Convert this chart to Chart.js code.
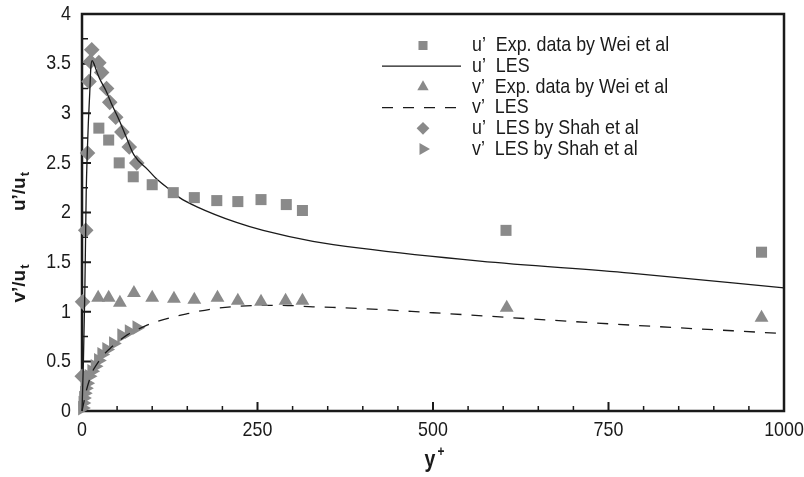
<!DOCTYPE html>
<html>
<head>
<meta charset="utf-8">
<script src="https://cdn.jsdelivr.net/npm/chart.js@4.4.0/dist/chart.umd.min.js"></script>
<style>
  html, body { margin: 0; padding: 0; background: #fff; }
  #wrap { width: 804px; height: 477px; position: relative; }
</style>
</head>
<body>
<div id="wrap"><canvas id="chart"></canvas></div>
<script>
// valeurs
const uExpX = [24, 38, 53, 73, 100, 130, 160, 192, 222, 255, 291, 314, 604, 968];
const uExpY = [2.85, 2.73, 2.50, 2.36, 2.28, 2.20, 2.15, 2.12, 2.11, 2.13, 2.08, 2.02, 1.82, 1.60];

const vExpX = [23, 38, 54, 74, 100, 131, 160, 193, 222, 255, 290, 314, 605, 968];
const vExpY = [1.14, 1.14, 1.09, 1.19, 1.14, 1.13, 1.12, 1.14, 1.11, 1.10, 1.11, 1.11, 1.04, 0.94];

const uLesX = [0, 2, 4, 5, 6, 7.5, 9, 11, 12.5, 14.5, 17, 20, 25, 34, 43, 53, 63, 74, 94, 106, 125, 139, 163, 220, 258, 329, 396, 567, 781, 1000];
const uLesY = [0, 0.5, 1.2, 1.7, 2.2, 2.6, 2.9, 3.2, 3.45, 3.53, 3.5, 3.44, 3.35, 3.23, 3.08, 2.93, 2.76, 2.58, 2.43, 2.34, 2.23, 2.15, 2.06, 1.90, 1.82, 1.71, 1.64, 1.51, 1.39, 1.24];

const vLesX = [0, 3, 6, 10, 15, 20, 30, 40, 50, 65, 88, 106, 150, 187, 234, 282, 329, 391, 500, 581, 781, 1000];
const vLesY = [0, 0.1, 0.2, 0.3, 0.4, 0.46, 0.56, 0.63, 0.69, 0.77, 0.85, 0.90, 0.98, 1.03, 1.06, 1.065, 1.05, 1.035, 0.99, 0.954, 0.866, 0.78];

const uShahX = [0.3, 0.8, 5.3, 7.9, 10.0, 12.0, 13.9, 24.0, 28.0, 35.0, 39.5, 48.0, 56.8, 67.3, 78.0];
const uShahY = [0.35, 1.10, 1.82, 2.60, 3.32, 3.52, 3.64, 3.51, 3.41, 3.25, 3.11, 2.96, 2.81, 2.66, 2.50];

const vShahX = [0.5, 1.2, 2.0, 3.2, 4.8, 6.6, 10, 13.7, 18.5, 23.2, 28, 35, 44.6, 56.4, 67, 78];
const vShahY = [0.03, 0.08, 0.13, 0.18, 0.23, 0.28, 0.35, 0.40, 0.45, 0.51, 0.57, 0.62, 0.68, 0.76, 0.80, 0.84];

const xTicks = [0, 250, 500, 750, 1000];
const yTicks = [0, 0.5, 1, 1.5, 2, 2.5, 3, 3.5, 4];

const labels = [
    'u\u2019  Exp. data by Wei et al',
    'u\u2019  LES',
    'v\u2019  Exp. data by Wei et al',
    'v\u2019  LES',
    'u\u2019  LES by Shah et al',
    'v\u2019  LES by Shah et al'
];

const GRIS = '#8a8a8a';
const NOIR = '#1a1a1a';
const FONT = '"Liberation Sans", Arial, Helvetica, sans-serif';
const SX = 0.85; // texte un peu condensé comme sur la figure

function pts(xs, ys) {
    return xs.map((x, i) => ({ x: x, y: ys[i] }));
}

// Fonction pour écrire un texte condensé
function txt(ctx, s, x, y, size, bold, align) {
    ctx.save();
    ctx.translate(x, y);
    ctx.scale(SX, 1);
    ctx.font = (bold ? 'bold ' : '') + size + 'px ' + FONT;
    ctx.textAlign = align || 'left';
    ctx.textBaseline = 'middle';
    ctx.fillStyle = NOIR;
    ctx.fillText(s, 0, 0);
    ctx.restore();
}

// Fonction pour dessiner un symbole de la légende
function marker(ctx, style, rot, x, y, r) {
    ctx.save();
    ctx.fillStyle = GRIS;
    ctx.beginPath();
    if (style === 'rect') {
        const s = r * Math.SQRT1_2;
        ctx.rect(x - s, y - s, 2 * s, 2 * s);
    } else if (style === 'rectRot') {
        ctx.moveTo(x, y - r);
        ctx.lineTo(x + r, y);
        ctx.lineTo(x, y + r);
        ctx.lineTo(x - r, y);
        ctx.closePath();
    } else if (style === 'triangle') {
        let a = rot * Math.PI / 180;
        ctx.moveTo(x + Math.sin(a) * r, y - Math.cos(a) * r);
        a += 2 * Math.PI / 3;
        ctx.lineTo(x + Math.sin(a) * r, y - Math.cos(a) * r);
        a += 2 * Math.PI / 3;
        ctx.lineTo(x + Math.sin(a) * r, y - Math.cos(a) * r);
        ctx.closePath();
    }
    ctx.fill();
    ctx.restore();
}

// Titre vertical avec indice
function vtitle(ctx, main, sub, x, cy) {
    ctx.save();
    ctx.translate(x, cy);
    ctx.rotate(-Math.PI / 2);
    ctx.fillStyle = NOIR;
    ctx.textAlign = 'left';
    ctx.textBaseline = 'alphabetic';
    ctx.font = 'bold 19px ' + FONT;
    const w1 = ctx.measureText(main).width;
    ctx.font = 'bold 13px ' + FONT;
    const w2 = ctx.measureText(sub).width;
    const start = -(w1 + w2) / 2;
    ctx.font = 'bold 19px ' + FONT;
    ctx.fillText(main, start, 0);
    ctx.font = 'bold 13px ' + FONT;
    ctx.fillText(sub, start + w1 + 1, 4);
    ctx.restore();
}

const axesPlugin = {
    id: 'axesPlugin',
    beforeDatasetsDraw(chart) {
        const ctx = chart.ctx;
        const a = chart.chartArea;
        const xs = chart.scales.x;
        const ys = chart.scales.y;

        ctx.save();
        ctx.strokeStyle = NOIR;

        // ticks vers l'intérieur
        ctx.lineWidth = 1.5;
        ctx.beginPath();
        for (let v = 50; v < 1000; v += 50) {
            if (v % 250 === 0) continue;
            const px = xs.getPixelForValue(v);
            ctx.moveTo(px, a.bottom);
            ctx.lineTo(px, a.bottom - 5);
        }
        for (let v = 0.25; v < 4; v += 0.5) {
            const py = ys.getPixelForValue(v);
            ctx.moveTo(a.left, py);
            ctx.lineTo(a.left + 6, py);
        }
        ctx.stroke();

        ctx.lineWidth = 2;
        ctx.beginPath();
        xTicks.forEach(v => {
            const px = xs.getPixelForValue(v);
            ctx.moveTo(px, a.bottom);
            ctx.lineTo(px, a.bottom - 9);
        });
        yTicks.forEach(v => {
            const py = ys.getPixelForValue(v);
            ctx.moveTo(a.left, py);
            ctx.lineTo(a.left + 9, py);
        });
        ctx.stroke();

        // cadre
        ctx.lineWidth = 2.5;
        ctx.strokeRect(a.left, a.top, a.right - a.left, a.bottom - a.top);
        ctx.restore();

        // étiquettes
        xTicks.forEach(v => txt(ctx, String(v), xs.getPixelForValue(v), a.bottom + 19, 21, false, 'center'));
        yTicks.forEach(v => txt(ctx, String(v), a.left - 11, ys.getPixelForValue(v), 21, false, 'right'));

        // titres des axes
        vtitle(ctx, 'u\u2019/u', 't', 25, 192);
        vtitle(ctx, 'v\u2019/u', 't', 25, 284);

        const cx = (a.left + a.right) / 2;
        txt(ctx, 'y', cx - 3, 461, 23, true, 'center');
        txt(ctx, '+', cx + 8, 452, 14, true, 'center');

        // légende
        chart.data.datasets.forEach((ds, i) => {
            const y = 45.5 + i * 20.7;
            if (ds.showLine) {
                ctx.save();
                ctx.strokeStyle = ds.borderColor;
                ctx.lineWidth = ds.borderWidth;
                ctx.setLineDash(ds.borderDash || []);
                ctx.beginPath();
                ctx.moveTo(382, y);
                ctx.lineTo(461, y);
                ctx.stroke();
                ctx.restore();
            } else {
                marker(ctx, ds.pointStyle, ds.rotation || 0, 423, y, ds.pointRadius * 0.82);
            }
            txt(ctx, ds.label, 472, y, 21, false, 'left');
        });
    }
};

function points(label, xs, ys, style, r, rot) {
    return {
        label: label,
        data: pts(xs, ys),
        showLine: false,
        pointStyle: style,
        pointRadius: r,
        rotation: rot || 0,
        pointRotation: rot || 0,
        pointBackgroundColor: GRIS,
        pointBorderWidth: 0,
        pointBorderColor: GRIS,
        clip: false
    };
}

function courbe(label, xs, ys, dash) {
    return {
        label: label,
        data: pts(xs, ys),
        showLine: true,
        borderColor: NOIR,
        borderWidth: 1.3,
        borderDash: dash,
        pointRadius: 0,
        cubicInterpolationMode: 'monotone',
        clip: false
    };
}

const chart = new Chart(document.getElementById('chart'), {
    type: 'scatter',
    data: {
        datasets: [
            points(labels[0], uExpX, uExpY, 'rect', 7.8),
            courbe(labels[1], uLesX, uLesY, []),
            points(labels[2], vExpX, vExpY, 'triangle', 8),
            courbe(labels[3], vLesX, vLesY, [11, 10]),
            points(labels[4], uShahX, uShahY, 'rectRot', 7.8),
            points(labels[5], vShahX, vShahY, 'triangle', 8.5, 90)
        ]
    },
    options: {
        responsive: true,
        maintainAspectRatio: false,
        animation: false,
        events: [],
        layout: { padding: { left: 0, right: 20, top: 14, bottom: 0 } },
        plugins: {
            legend: { display: false },
            tooltip: { enabled: false }
        },
        scales: {
            x: {
                type: 'linear',
                min: 0,
                max: 1000,
                ticks: { display: false },
                grid: { display: false },
                border: { display: false },
                afterFit: s => { s.height = 66; }
            },
            y: {
                type: 'linear',
                min: 0,
                max: 4,
                ticks: { display: false },
                grid: { display: false },
                border: { display: false },
                afterFit: s => { s.width = 82; }
            }
        }
    },
    plugins: [axesPlugin]
});
</script>
</body>
</html>
